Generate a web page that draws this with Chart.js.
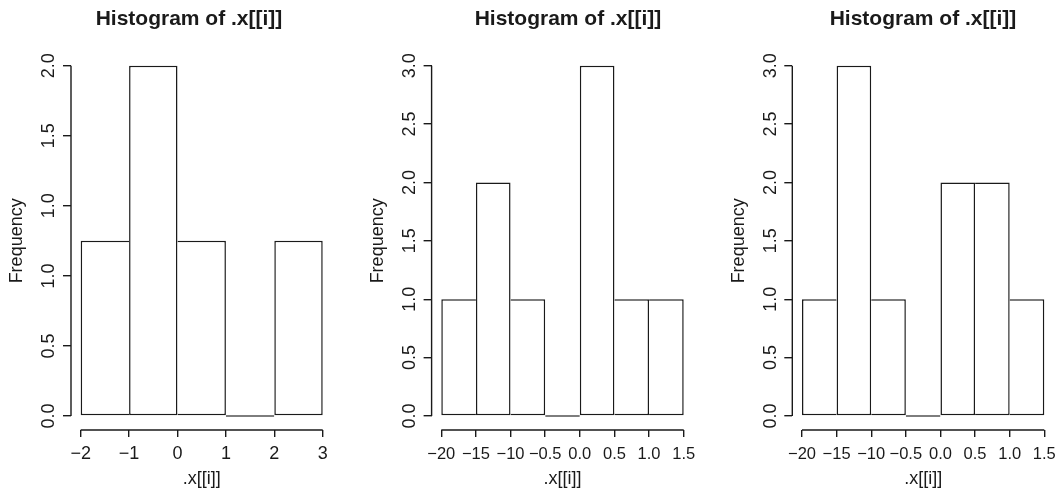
<!DOCTYPE html>
<html>
<head>
<meta charset="utf-8">
<title>Histogram of .x[[i]]</title>
<script src="https://cdn.jsdelivr.net/npm/chart.js@4.4.0/dist/chart.umd.min.js"></script>
<style>
    html, body { margin: 0; padding: 0; background: #fff; }
    #wrap { position: relative; width: 1059px; height: 497px; overflow: hidden; }
    #wrap canvas { position: absolute; top: 0; }
</style>
</head>
<body>
<div id="wrap">
    <canvas id="hist1" width="353" height="497" style="left:0px"></canvas>
    <canvas id="hist2" width="353" height="497" style="left:353px"></canvas>
    <canvas id="hist3" width="353" height="497" style="left:706px"></canvas>
</div>
<script>
const titleText = 'Histogram of .x[[i]]';
const xTitle = '.x[[i]]';
const yTitle = 'Frequency';

// panel 1
const breaks1 = [-2, -1, 0, 1, 2, 3];
const counts1 = [1, 2, 1, 0, 1];
const xLabels1 = ['−2', '−1', '0', '1', '2', '3'];
const yTicks1 = [0, 0.4, 0.8, 1.2, 1.6, 2.0];
const yLabels1 = ['0.0', '0.5', '1.0', '1.0', '1.5', '2.0'];

// panel 2
const breaks2 = [-2, -1.5, -1, -0.5, 0, 0.5, 1, 1.5];
const counts2 = [1, 2, 1, 0, 3, 1, 1];
const xLabels2 = ['−20', '−15', '−10', '−0.5', '0.0', '0.5', '1.0', '1.5'];
const yTicks2 = [0, 0.5, 1, 1.5, 2, 2.5, 3];
const yLabels2 = ['0.0', '0.5', '1.0', '1.5', '2.0', '2.5', '3.0'];

// panel 3
const breaks3 = [-2, -1.5, -1, -0.5, 0, 0.5, 1, 1.5];
const counts3 = [1, 3, 1, 0, 2, 2, 1];
const xLabels3 = ['−20', '−15', '−10', '−0.5', '0.0', '0.5', '1.0', '1.5'];
const yTicks3 = [0, 0.5, 1, 1.5, 2, 2.5, 3];
const yLabels3 = ['0.0', '0.5', '1.0', '1.5', '2.0', '2.5', '3.0'];

const ink = '#1a1a1a';
Chart.defaults.font.family = '"Liberation Sans", Arial, Helvetica, sans-serif';
Chart.defaults.color = ink;

// main title, drawn where R put it (not centred on the canvas)
const mainTitle = {
    id: 'mainTitle',
    afterDraw(chart, args, opts) {
        const ctx = chart.ctx;
        ctx.save();
        ctx.font = 'bold 21px "Liberation Sans", Arial, sans-serif';
        ctx.fillStyle = ink;
        ctx.textAlign = 'center';
        ctx.textBaseline = 'alphabetic';
        ctx.fillText(opts.text, opts.x, opts.y);
        ctx.restore();
    }
};

// R style axis lines: only from first to last tick
const rAxes = {
    id: 'rAxes',
    afterDraw(chart) {
        const { ctx, scales: { x, y } } = chart;
        const xt = x.ticks, yt = y.ticks;
        ctx.save();
        ctx.strokeStyle = ink;
        ctx.lineWidth = 1.4;
        ctx.beginPath();
        ctx.moveTo(x.getPixelForValue(xt[0].value), x.top);
        ctx.lineTo(x.getPixelForValue(xt[xt.length - 1].value), x.top);
        ctx.moveTo(y.right, y.getPixelForValue(yt[0].value));
        ctx.lineTo(y.right, y.getPixelForValue(yt[yt.length - 1].value));
        ctx.stroke();
        ctx.restore();
    }
};

function makeHist(id, breaks, counts, xLabels, yTicks, yLabels, look) {
    const xSpan = breaks[breaks.length - 1] - breaks[0];
    const yTop = Math.max(...counts);
    const points = counts.map((c, i) => ({ x: (breaks[i] + breaks[i + 1]) / 2, y: c }));

    new Chart(document.getElementById(id), {
        type: 'bar',
        data: {
            datasets: [{
                data: points,
                backgroundColor: '#ffffff',
                borderColor: ink,
                borderWidth: 1.5,
                inflateAmount: 0,
                minBarLength: 1.5,
                barPercentage: 1,
                categoryPercentage: 1,
                // shared edges are drawn once
                borderSkipped: function(ctx) {
                    const i = ctx.dataIndex;
                    const h = counts[i];
                    const prev = i > 0 ? counts[i - 1] : 0;
                    const next = i < counts.length - 1 ? counts[i + 1] : 0;
                    if (prev > 0 && prev >= h) return 'left';
                    if (next > h) return 'right';
                    return false;
                }
            }]
        },
        options: {
            responsive: false,
            animation: false,
            events: [],
            layout: { padding: { left: 0, top: 51.7, right: 353 - look.right, bottom: 0 } },
            plugins: {
                legend: { display: false },
                tooltip: { enabled: false },
                mainTitle: { text: titleText, x: look.titleX, y: 25 }
            },
            scales: {
                x: {
                    type: 'linear',
                    offset: false,
                    min: breaks[0] - 0.04 * xSpan,
                    max: breaks[breaks.length - 1] + 0.04 * xSpan,
                    afterBuildTicks: axis => { axis.ticks = breaks.map(v => ({ value: v })); },
                    afterFit: axis => { axis.height = 67; axis.paddingLeft = 0; axis.paddingRight = 0; },
                    grid: { offset: false, drawOnChartArea: false, drawTicks: true, tickLength: 7, color: ink, lineWidth: 1.4 },
                    border: { display: false },
                    ticks: {
                        autoSkip: false,
                        minRotation: 0,
                        maxRotation: 0,
                        padding: look.xPad,
                        font: { size: look.xFont },
                        callback: (v, i) => xLabels[i]
                    },
                    title: { display: true, text: xTitle, font: { size: 18 }, padding: { top: 0, bottom: 7 } }
                },
                y: {
                    type: 'linear',
                    min: -0.04 * yTop,
                    max: 1.04 * yTop,
                    afterBuildTicks: axis => { axis.ticks = yTicks.map(v => ({ value: v })); },
                    afterFit: axis => { axis.width = look.left; axis.paddingTop = 0; axis.paddingBottom = 0; },
                    grid: { drawOnChartArea: false, drawTicks: true, tickLength: 8, color: ink, lineWidth: 1.4 },
                    border: { display: false },
                    ticks: {
                        minRotation: 90,
                        maxRotation: 90,
                        crossAlign: 'center',
                        padding: 1,
                        font: { size: 18 },
                        callback: (v, i) => yLabels[i]
                    },
                    title: { display: true, text: yTitle, font: { size: 18 }, padding: { top: look.yTitlePad, bottom: 0 } }
                }
            }
        },
        plugins: [mainTitle, rAxes]
    });
}

makeHist('hist1', breaks1, counts1, xLabels1, yTicks1, yLabels1,
    { left: 71, right: 332.4, titleX: 189, xFont: 18, xPad: 6, yTitlePad: 6 });
makeHist('hist2', breaks2, counts2, xLabels2, yTicks2, yLabels2,
    { left: 78.6, right: 340.4, titleX: 215, xFont: 16.5, xPad: 8, yTitlePad: 14 });
makeHist('hist3', breaks3, counts3, xLabels3, yTicks3, yLabels3,
    { left: 86.3, right: 348, titleX: 217, xFont: 16.5, xPad: 8, yTitlePad: 22.5 });
</script>
</body>
</html>
